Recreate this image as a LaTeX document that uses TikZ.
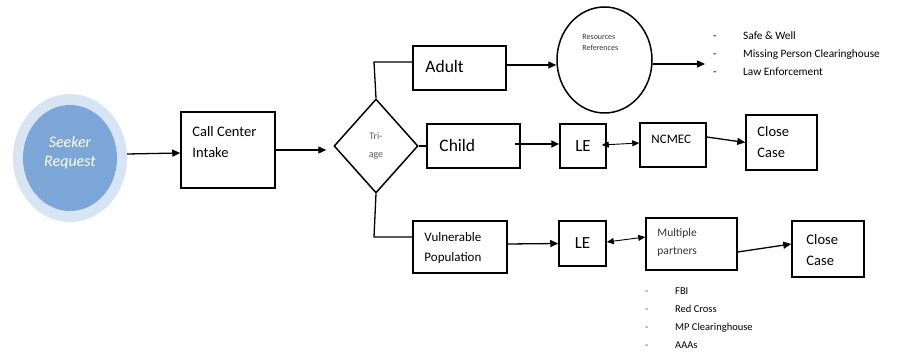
\documentclass[tikz,border=0pt]{standalone}
\usepackage{fontspec}
\setmainfont{Carlito}
\usetikzlibrary{shapes.geometric,arrows.meta}
\definecolor{seekblue}{RGB}{125,166,216}
\definecolor{seekring}{RGB}{214,228,243}
\newcommand{\fs}[2]{\fontsize{#1}{#2}\selectfont}
\tikzset{
 box/.style={draw, rectangle, line width=1.5pt, inner sep=0pt},
 txt/.style={anchor=west, inner sep=0pt, align=left},
 item/.style={anchor=base west, inner sep=0pt},
 arr/.style={-{Triangle[length=8pt,width=7pt]}, line width=1.3pt},
 twoway/.style={{Triangle[length=7pt,width=6pt]}-{Triangle[length=7pt,width=6pt]}, line width=0.9pt},
 link/.style={line width=1.3pt}
}

\begin{document}
\begin{tikzpicture}[x=1pt,y=-1pt]
\useasboundingbox (0,0) rectangle (897,352);

% seeker
\node[ellipse, fill=seekring, minimum width=114pt, minimum height=128pt, inner sep=0pt] (ring) at (70,158) {};
\node[ellipse, fill=seekblue, minimum width=94pt, minimum height=106pt, inner sep=0pt] (seeker) at (70,158) {};
\node[text=white, font=\itshape\fs{16}{19}, align=center] (seekt) at (70,152.5) {Seeker\\Request};

% intake and triage
\node[box, minimum width=94pt, minimum height=76pt,
 label={[txt, font=\fs{14.5}{21}, xshift=12pt, yshift=7.5pt]west:{Call Center\\Intake}}] (cci) at (228,150) {};
\node[diamond, draw, line width=1.5pt, minimum width=84pt, minimum height=94pt, inner sep=0pt,
 text=black!65, font=\fs{10}{18}, align=center] (triage) at (376,146) {Tri-\\age};

% adult row
\node[box, minimum width=93pt, minimum height=44pt,
 label={[txt, font=\fs{17.5}{21}, xshift=13pt, yshift=2pt]west:Adult}] (adult) at (459.5,68) {};
\node[ellipse, draw, line width=1.5pt, minimum width=95pt, minimum height=106pt, inner sep=0pt,
 label={[txt, font=\fs{8}{11}, text=black!80, xshift=26pt, yshift=17.5pt]west:{Resources\\References}}] (res) at (604.5,60) {};
\coordinate (l1) at (705,64);
\foreach \t [count=\i] in {Safe \& Well, Missing Person Clearinghouse, Law Enforcement}
{
  \node[item, font=\fs{11.3}{13}] (resd\i) at (713,22+18*\i) {-};
  \node[item, font=\fs{11.3}{13}] (rest\i) at (743,22+18*\i) {\t};
}

% child row
\node[box, minimum width=93pt, minimum height=44pt,
 label={[txt, font=\fs{17.5}{21}, xshift=13pt, yshift=1pt]west:Child}] (child) at (473.5,146) {};
\node[box, minimum width=46pt, minimum height=44pt, font=\fs{17}{20}] (le1) at (583,146) {LE};
\node[box, minimum width=66pt, minimum height=44pt,
 label={[txt, font=\fs{13}{16}, xshift=12pt, yshift=6pt]west:NCMEC}] (ncmec) at (673,145) {};
\node[box, minimum width=71pt, minimum height=55pt,
 label={[txt, font=\fs{14.5}{21}, xshift=12pt]west:{Close\\Case}}] (close1) at (781.5,142.5) {};

% vulnerable row
\node[box, minimum width=94pt, minimum height=52pt,
 label={[txt, font=\fs{13}{20}, xshift=12pt, yshift=-1pt]west:{Vulnerable\\Population}}] (vuln) at (460,247) {};
\node[box, minimum width=47pt, minimum height=45pt, font=\fs{17}{20}] (le2) at (582.5,243.5) {LE};
\node[box, minimum width=91pt, minimum height=52pt,
 label={[txt, font=\fs{11.5}{18}, text=black!80, xshift=12pt, yshift=2pt]west:{Multiple\\partners}}] (mp) at (691.5,244) {};
\node[box, minimum width=72pt, minimum height=56pt,
 label={[txt, font=\fs{14.5}{21}, xshift=15pt, yshift=-1.5pt]west:{Close\\Case}}] (close2) at (828,249) {};
\foreach \t [count=\i] in {FBI, Red Cross, MP Clearinghouse, AAAs}
{
  \node[item, font=\fs{10.5}{13}, text=black!70] (mpd\i) at (645,276.5+18*\i) {-};
  \node[item, font=\fs{10.5}{13}] (mpt\i) at (675,276.5+18*\i) {\t};
}

% connectors
\draw[arr] ([yshift=4pt]ring.east) -- ([yshift=-3pt]cci.west);
\draw[arr, shorten >=7pt] (cci.east) -- (cci.east -| triage.west);
\coordinate (ka) at (374,62);
\draw[link] (triage.north) -- (ka) -- (ka -| adult.west);
\draw[arr] ([yshift=3pt]adult.east) -- ([yshift=-5pt]res.west);
\draw[arr] ([yshift=-4pt]res.east) -- (l1);
\draw[link] (triage.east) -- (child.west);
\draw[arr, line width=2.2pt] ([xshift=-6pt,yshift=2pt]child.east) -- ([yshift=2pt]le1.west);
\draw[twoway] ([xshift=-5pt,yshift=1pt]le1.east) -- ([yshift=2pt]ncmec.west);
\draw[arr] ([yshift=8pt]ncmec.east) -- (close1.west);
\coordinate (kv) at (374,237);
\draw[link] (triage.south) -- (kv) -- (kv -| vuln.west);
\draw[arr] ([yshift=3pt]vuln.east) -- (le2.west);
\draw[twoway] ([yshift=1.5pt]le2.east) -- ([yshift=7pt]mp.west);
\draw[arr] ([yshift=-8pt]mp.east) -- ([yshift=5pt]close2.west);

\end{tikzpicture}
\end{document}
